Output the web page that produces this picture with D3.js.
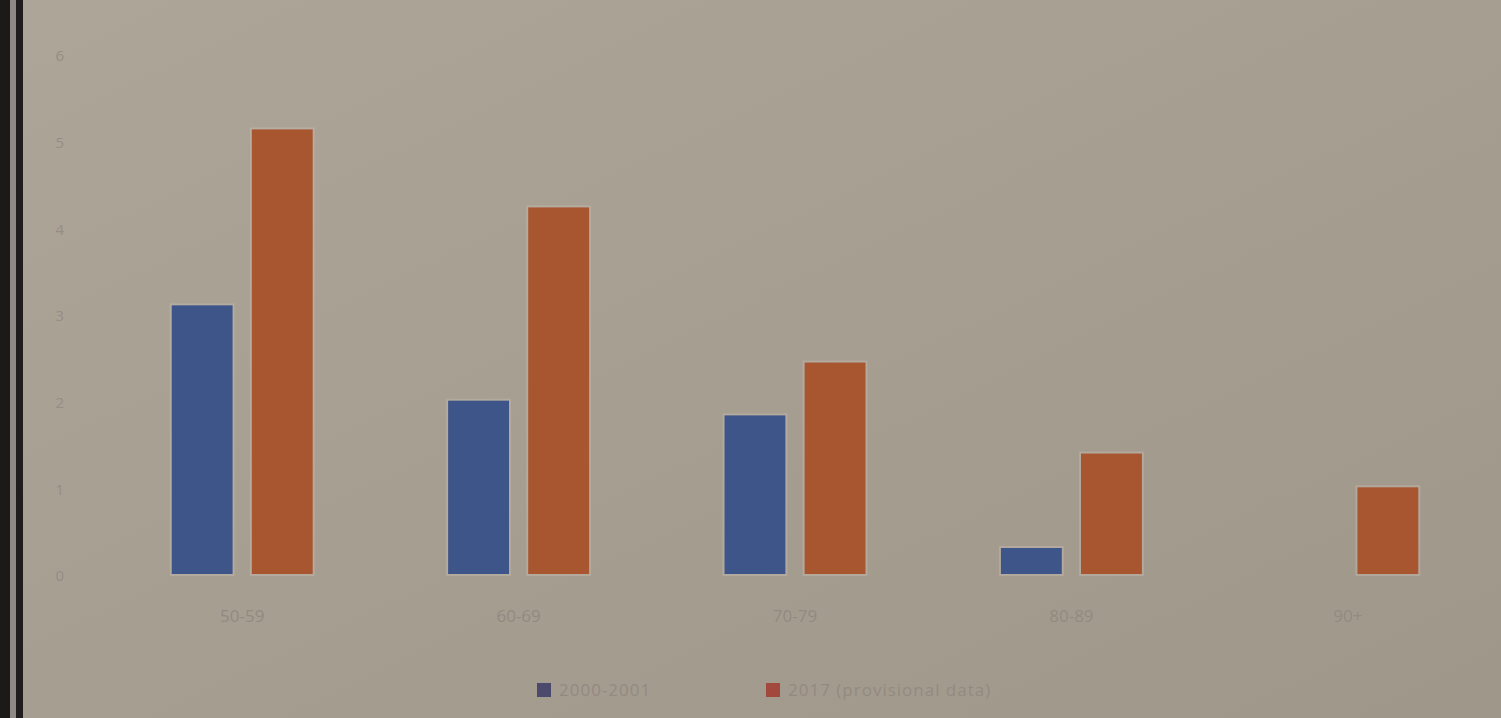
<!DOCTYPE html>
<html>
<head>
<meta charset="utf-8">
<script src="https://cdn.jsdelivr.net/npm/d3@7"></script>
<style>
  html, body { margin: 0; padding: 0; background: #a79e93; overflow: hidden; }
  svg { display: block; }
  text { font-family: "Open Sans", "DejaVu Sans", sans-serif; }
</style>
</head>
<body>
<svg id="chart"></svg>
<script>
// chart data
const ageGroups = ["50-59", "60-69", "70-79", "80-89", "90+"];
const seriesNames = ["2000-2001", "2017 (provisional data)"];
const values2000 = [3.1, 2.0, 1.83, 0.3, 0];
const values2017 = [5.13, 4.23, 2.44, 1.39, 1.0];
const yTicks = [0, 1, 2, 3, 4, 5, 6];
const colors = ["#3d5589", "#a8562f"];

const W = 1501, H = 718;

const svg = d3.select("#chart").attr("width", W).attr("height", H);

// background with slight lighting like the photo
const defs = svg.append("defs");
const grad = defs.append("linearGradient").attr("id", "bg")
  .attr("x1", "0").attr("y1", "0").attr("x2", "1").attr("y2", "1");
grad.append("stop").attr("offset", "0%").attr("stop-color", "#aea599");
grad.append("stop").attr("offset", "100%").attr("stop-color", "#a0978b");
svg.append("rect").attr("width", W).attr("height", H).attr("fill", "url(#bg)");

// dark frame edge on the left
svg.append("rect").attr("x", 0).attr("y", 0).attr("width", 10).attr("height", H).attr("fill", "#1b1a19");
svg.append("rect").attr("x", 10).attr("y", 0).attr("width", 6).attr("height", H).attr("fill", "#8f8a85");
svg.append("rect").attr("x", 16).attr("y", 0).attr("width", 7).attr("height", H).attr("fill", "#201e1c");

const rows = ageGroups.map((g, i) => ({ group: g, vals: [values2000[i], values2017[i]] }));

const x0 = d3.scaleBand().domain(ageGroups).range([104, 1486])
  .paddingInner(0.49).paddingOuter(0.245);
const x1 = d3.scaleBand().domain(d3.range(seriesNames.length))
  .range([0, x0.bandwidth()]).paddingInner(0.24);
const y = d3.scaleLinear().domain([0, 6]).range([574, 54]);

// y axis (labels only)
const yAxis = svg.append("g")
  .attr("transform", "translate(64,2)")
  .call(d3.axisLeft(y).tickValues(yTicks).tickFormat(d3.format("d")).tickSize(0).tickPadding(0));
yAxis.select(".domain").remove();
yAxis.selectAll("text").attr("fill", "#958d83").attr("font-size", 15);

// bars
const groups = svg.append("g").selectAll("g").data(rows).enter().append("g")
  .attr("transform", d => "translate(" + x0(d.group) + ",0)");

groups.selectAll("rect.halo").data(d => d.vals.map((v, i) => ({ v, i })).filter(d => d.v > 0))
  .enter().append("rect").attr("class", "halo")
  .attr("x", d => x1(d.i) - 2)
  .attr("y", d => y(d.v) - 2)
  .attr("width", x1.bandwidth() + 4)
  .attr("height", d => y(0) - y(d.v) + 4)
  .attr("fill", "#c2b6a9").attr("opacity", 0.5);

groups.selectAll("rect.bar").data(d => d.vals.map((v, i) => ({ v, i })).filter(d => d.v > 0))
  .enter().append("rect").attr("class", "bar")
  .attr("x", d => x1(d.i))
  .attr("y", d => y(d.v))
  .attr("width", x1.bandwidth())
  .attr("height", d => y(0) - y(d.v))
  .attr("fill", d => colors[d.i]);

// x axis (labels only)
const xAxis = svg.append("g")
  .attr("transform", "translate(0,610)")
  .call(d3.axisBottom(x0).tickSize(0).tickPadding(0));
xAxis.select(".domain").remove();
xAxis.selectAll("text").attr("fill", "#928a80").attr("font-size", 17);

// legend
const legend = svg.append("g").attr("transform", "translate(537,683)");
const legX = [0, 229];
seriesNames.forEach((name, i) => {
  const item = legend.append("g").attr("transform", "translate(" + legX[i] + ",0)");
  item.append("rect").attr("width", 14).attr("height", 14)
    .attr("fill", i === 0 ? "#4b4a6c" : "#a3483c");
  item.append("text").attr("x", 22).attr("y", 13)
    .attr("fill", "#928a80").attr("font-size", 17).attr("letter-spacing", 1).text(name);
});
</script>
</body>
</html>
